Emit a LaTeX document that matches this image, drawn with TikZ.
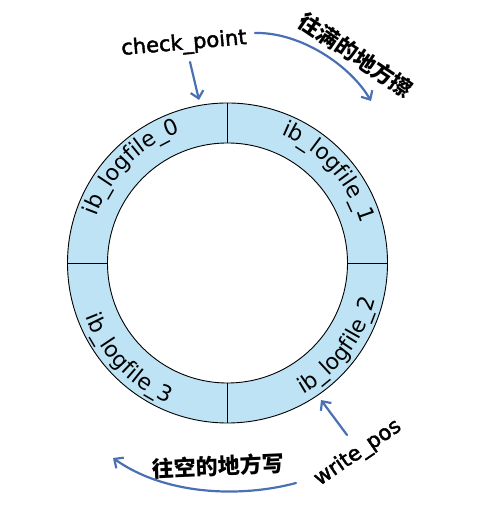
\documentclass[tikz,border=0pt]{standalone}
\usepackage{fontspec}
\setmainfont{DejaVu Sans}
\newfontfamily\cjk{Noto Sans CJK SC}
\newfontface\lblbold[FakeBold=2]{DejaVu Sans}
\usetikzlibrary{arrows.meta,decorations.text,calc}
\definecolor{ringblue}{HTML}{BEE3F4}
\definecolor{arrowblue}{HTML}{4A70B4}
\newcommand\ringfont{\fontsize{22}{26}\selectfont}
\tikzset{
  ringline/.style={draw=black, line width=0.9pt},
  lbl/.style={font=\lblbold\fontsize{21}{25}\selectfont, inner sep=0pt},
  cjklbl/.style={font=\cjk\bfseries\fontsize{22}{26}\selectfont, inner sep=0pt},
  arr/.style={draw=arrowblue, line width=2.2pt, line cap=round,
              -{Straight Barb[length=7pt,width=13pt,line width=2.2pt]}}
}
\begin{document}
\begin{tikzpicture}[x=1pt,y=1pt]
\useasboundingbox (0,0) rectangle (478,510);
\coordinate (C) at (227.5,247);
% ring
\fill[ringblue,even odd rule] (C) circle[radius=160] (C) circle[radius=120];
\draw[ringline] (C) circle[radius=160];
\draw[ringline] (C) circle[radius=120];
\foreach \a in {0,90,180,270}
  \draw[ringline] ($(C)+(\a:120)$) -- ($(C)+(\a:160)$);
% ring labels
\path[decorate,decoration={text along path,text align=center,
  text={|\ringfont|ib{\_}logfile{\_}0}}]
  ($(C)+(175:139)$) arc[start angle=175,end angle=95,radius=139];
\path[decorate,decoration={text along path,text align=center,
  text={|\ringfont|ib{\_}logfile{\_}1}}]
  ($(C)+(82:139)$) arc[start angle=82,end angle=2,radius=139];
\path[decorate,decoration={text along path,text align=center,
  text={|\ringfont|ib{\_}logfile{\_}2}}]
  ($(C)+(-77:152)$) arc[start angle=-77,end angle=3,radius=152];
\path[decorate,decoration={text along path,text align=center,
  text={|\ringfont|ib{\_}logfile{\_}3}}]
  ($(C)+(184:152)$) arc[start angle=184,end angle=264,radius=152];
% labels
\node[lbl, rotate=5] (cp) at (184,466) {check\_point};
\node[cjklbl, rotate=-34] (full) at (356,455) {往满的地方擦};
\node[cjklbl, rotate=2.5] (empty) at (218,44) {往空的地方写};
\node[lbl, rotate=34.5] (wp) at (358,57) {write\_pos};
% arrows
\coordinate (cpS) at (190,448);
\coordinate (cpE) at (199,410);
\draw[arr] (cpS) -- (cpE);
\coordinate (fS) at (255,477);
\coordinate (fE) at (371,409);
\draw[arr] (fS) .. controls (300,478) and (350,445) .. (fE);
\coordinate (eS) at (296,27);
\coordinate (eE) at (113,52);
\draw[arr] (eS) .. controls (240,12) and (165,15) .. (eE);
\coordinate (wS) at (347,75);
\coordinate (wE) at (321,110);
\draw[arr] (wS) -- (wE);
\end{tikzpicture}
\end{document}
